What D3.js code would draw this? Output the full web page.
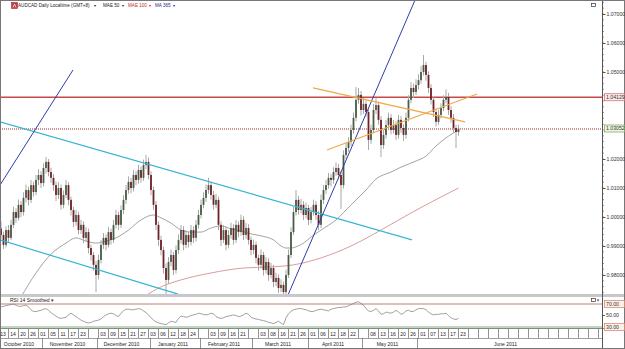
<!DOCTYPE html>
<html><head><meta charset="utf-8">
<script src="https://cdn.jsdelivr.net/npm/d3@7"></script>
<style>html,body{margin:0;padding:0;background:#fff;overflow:hidden}svg{display:block;font-family:Arial,"Liberation Sans",sans-serif}</style>
</head><body><svg id="c" width="625" height="349"></svg>
<script>
// ---------------- DATA ----------------
const open=[0.9960,0.9938,0.9904,0.9955,0.9928,0.9973,1.0017,0.9997,1.0042,1.0017,1.0066,1.0093,1.0059,1.0110,1.0086,1.0128,1.0145,1.0117,1.0169,1.0190,1.0155,1.0135,1.0110,1.0076,1.0100,1.0042,1.0076,1.0110,1.0059,1.0024,0.9983,1.0007,0.9955,0.9973,0.9928,0.9948,0.9893,0.9869,0.9835,0.9800,0.9852,0.9904,0.9928,0.9904,0.9948,0.9921,0.9973,1.0007,0.9973,1.0024,1.0059,1.0093,1.0121,1.0100,1.0145,1.0128,1.0162,1.0135,1.0179,1.0190,1.0145,1.0093,1.0042,0.9973,0.9921,0.9886,0.9824,0.9783,0.9845,0.9869,0.9817,0.9886,0.9921,0.9955,0.9904,0.9938,0.9914,0.9955,0.9928,0.9973,1.0007,1.0042,1.0066,1.0093,1.0110,1.0076,1.0042,1.0059,0.9973,0.9921,0.9955,0.9904,0.9938,0.9962,0.9921,0.9973,0.9948,0.9990,0.9938,0.9962,0.9921,0.9886,0.9904,0.9859,0.9835,0.9869,0.9817,0.9845,0.9800,0.9824,0.9776,0.9790,0.9755,0.9766,0.9741,0.9800,0.9869,0.9948,1.0017,1.0059,1.0024,1.0042,1.0007,1.0031,0.9990,1.0017,1.0042,1.0007,0.9973,1.0059,1.0093,1.0110,1.0135,1.0128,1.0155,1.0169,1.0145,1.0110,1.0214,1.0238,1.0259,1.0300,1.0342,1.0404,1.0421,1.0369,1.0390,1.0362,1.0266,1.0300,1.0369,1.0386,1.0335,1.0248,1.0283,1.0317,1.0342,1.0300,1.0317,1.0283,1.0335,1.0307,1.0283,1.0342,1.0404,1.0445,1.0431,1.0455,1.0472,1.0500,1.0524,1.0490,1.0445,1.0404,1.0362,1.0328,1.0352,1.0376,1.0404,1.0414,1.0369,1.0342,1.0307,1.0293];
const high=[0.9985,0.9950,0.9968,0.9972,0.9990,1.0035,1.0030,1.0060,1.0055,1.0085,1.0112,1.0105,1.0128,1.0122,1.0145,1.0165,1.0158,1.0185,1.0207,1.0200,1.0170,1.0148,1.0122,1.0120,1.0112,1.0092,1.0128,1.0120,1.0070,1.0035,1.0025,1.0018,0.9990,0.9985,0.9965,0.9960,0.9905,0.9880,0.9848,0.9870,0.9920,0.9945,0.9940,0.9965,0.9960,0.9990,1.0025,1.0018,1.0040,1.0075,1.0110,1.0140,1.0135,1.0162,1.0158,1.0180,1.0175,1.0198,1.0214,1.0205,1.0158,1.0105,1.0055,0.9985,0.9935,0.9898,0.9840,0.9862,0.9888,0.9880,0.9902,0.9940,0.9972,0.9968,0.9955,0.9950,0.9972,0.9968,0.9990,1.0025,1.0060,1.0085,1.0112,1.0135,1.0122,1.0090,1.0080,1.0070,0.9985,0.9972,0.9968,0.9955,0.9980,0.9975,0.9990,0.9985,1.0008,1.0002,0.9980,0.9975,0.9932,0.9922,0.9915,0.9870,0.9888,0.9880,0.9862,0.9858,0.9842,0.9835,0.9808,0.9802,0.9785,0.9778,0.9818,0.9888,0.9965,1.0035,1.0093,1.0072,1.0062,1.0055,1.0050,1.0042,1.0035,1.0060,1.0055,1.0020,1.0078,1.0110,1.0128,1.0152,1.0148,1.0172,1.0188,1.0182,1.0158,1.0230,1.0255,1.0275,1.0318,1.0360,1.0448,1.0445,1.0435,1.0410,1.0402,1.0375,1.0318,1.0390,1.0410,1.0398,1.0348,1.0300,1.0335,1.0360,1.0355,1.0335,1.0330,1.0352,1.0348,1.0320,1.0360,1.0420,1.0465,1.0460,1.0475,1.0492,1.0520,1.0559,1.0535,1.0502,1.0458,1.0415,1.0375,1.0370,1.0392,1.0420,1.0440,1.0428,1.0382,1.0355,1.0318,1.0318];
const low=[0.9925,0.9890,0.9895,0.9912,0.9920,0.9962,0.9980,0.9988,1.0000,1.0005,1.0050,1.0040,1.0048,1.0070,1.0075,1.0110,1.0100,1.0105,1.0150,1.0140,1.0118,1.0090,1.0055,1.0062,1.0025,1.0030,1.0065,1.0040,1.0005,0.9965,0.9970,0.9940,0.9942,0.9910,0.9915,0.9875,0.9850,0.9815,0.9741,0.9785,0.9840,0.9890,0.9885,0.9895,0.9905,0.9910,0.9960,0.9955,0.9962,1.0010,1.0045,1.0080,1.0082,1.0088,1.0110,1.0115,1.0118,1.0125,1.0165,1.0130,1.0075,1.0025,0.9955,0.9900,0.9868,0.9805,0.9731,0.9770,0.9830,0.9800,0.9805,0.9872,0.9908,0.9885,0.9892,0.9895,0.9902,0.9910,0.9915,0.9960,0.9995,1.0030,1.0052,1.0080,1.0060,1.0025,1.0030,0.9955,0.9900,0.9910,0.9885,0.9892,0.9925,0.9905,0.9910,0.9930,0.9935,0.9920,0.9925,0.9905,0.9868,0.9872,0.9840,0.9815,0.9822,0.9798,0.9805,0.9780,0.9788,0.9758,0.9762,0.9738,0.9740,0.9724,0.9730,0.9790,0.9858,0.9938,1.0005,1.0008,1.0012,0.9990,0.9995,0.9972,0.9978,1.0005,0.9990,0.9955,0.9962,1.0045,1.0080,1.0098,1.0105,1.0115,1.0142,1.0130,1.0028,1.0098,1.0200,1.0225,1.0245,1.0288,1.0330,1.0390,1.0350,1.0355,1.0345,1.0231,1.0252,1.0288,1.0355,1.0318,1.0207,1.0235,1.0270,1.0305,1.0285,1.0288,1.0265,1.0270,1.0290,1.0262,1.0270,1.0330,1.0392,1.0410,1.0420,1.0440,1.0460,1.0488,1.0470,1.0428,1.0388,1.0345,1.0312,1.0318,1.0340,1.0365,1.0392,1.0352,1.0325,1.0290,1.0238,1.0280];
const close=[0.9938,0.9904,0.9955,0.9928,0.9973,1.0017,0.9997,1.0042,1.0017,1.0066,1.0093,1.0059,1.0110,1.0086,1.0128,1.0145,1.0117,1.0169,1.0190,1.0155,1.0135,1.0110,1.0076,1.0100,1.0042,1.0076,1.0110,1.0059,1.0024,0.9983,1.0007,0.9955,0.9973,0.9928,0.9948,0.9893,0.9869,0.9835,0.9800,0.9852,0.9904,0.9928,0.9904,0.9948,0.9921,0.9973,1.0007,0.9973,1.0024,1.0059,1.0093,1.0121,1.0100,1.0145,1.0128,1.0162,1.0135,1.0179,1.0190,1.0145,1.0093,1.0042,0.9973,0.9921,0.9886,0.9824,0.9783,0.9845,0.9869,0.9817,0.9886,0.9921,0.9955,0.9904,0.9938,0.9914,0.9955,0.9928,0.9973,1.0007,1.0042,1.0066,1.0093,1.0110,1.0076,1.0042,1.0059,0.9973,0.9921,0.9955,0.9904,0.9938,0.9962,0.9921,0.9973,0.9948,0.9990,0.9938,0.9962,0.9921,0.9886,0.9904,0.9859,0.9835,0.9869,0.9817,0.9845,0.9800,0.9824,0.9776,0.9790,0.9755,0.9766,0.9741,0.9800,0.9869,0.9948,1.0017,1.0059,1.0024,1.0042,1.0007,1.0031,0.9990,1.0017,1.0042,1.0007,0.9973,1.0059,1.0093,1.0110,1.0135,1.0128,1.0155,1.0169,1.0145,1.0110,1.0214,1.0238,1.0259,1.0300,1.0342,1.0404,1.0421,1.0369,1.0390,1.0362,1.0266,1.0300,1.0369,1.0386,1.0335,1.0248,1.0283,1.0317,1.0342,1.0300,1.0317,1.0283,1.0335,1.0307,1.0283,1.0342,1.0404,1.0445,1.0431,1.0455,1.0472,1.0500,1.0524,1.0490,1.0445,1.0404,1.0362,1.0328,1.0352,1.0376,1.0404,1.0414,1.0369,1.0342,1.0307,1.0293,1.03052];
const rsi=[65,66,67,68,69,70,68,66,66,67,68,65,60,57,57,58,59,61,62,59,55,52,49,46,45,46,47,51,54,51,48,45,42,40,38,37,38,40,41,42,44,48,51,53,54,53,50,48,54,58,61,61,60,60,61,62,61,58,55,51,46,42,39,37,36,35,34,37,40,39,38,45,49,48,47,48,50,51,52,54,53,52,51,52,54,53,48,46,45,46,48,49,50,51,50,48,49,51,54,52,47,45,44,43,42,41,40,38,37,36,38,40,37,34,46,53,57,60,61,62,62,61,60,58,57,57,59,60,61,60,59,58,61,62,63,64,64,65,65,67,69,71,73,74,71,68,62,58,57,59,62,58,52,53,56,55,54,56,59,56,52,54,58,59,57,57,60,62,62,62,60,56,53,51,52,52,53,53,54,50,46,44,43,45];
// moving averages: bar index -> value
const mae50Idx=[8,14,20,26,30,34,38,42,46,51,56,61,64,68,72,76,80,84,88,92,96,100,104,109,112,114,116,118,121,124,128,134,140,146,150,156,160,166,170,174,178,181,183];
const mae50Val=[0.9724,0.9807,0.9872,0.9910,0.9928,0.9917,0.9910,0.9917,0.9928,0.9955,0.9990,1.0007,0.9997,0.9979,0.9955,0.9948,0.9948,0.9962,0.9969,0.9959,0.9952,0.9942,0.9935,0.9921,0.9900,0.9893,0.9893,0.9897,0.9910,0.9931,0.9955,0.9990,1.0042,1.0093,1.0131,1.0155,1.0172,1.0193,1.0210,1.0245,1.0273,1.0290,1.0300];
const mae100Idx=[57,64,72,84,97,108,117,128,140,152,164,176,183];
const mae100Val=[0.9724,0.9759,0.9783,0.9807,0.9824,0.9828,0.9835,0.9859,0.9900,0.9955,1.0014,1.0069,1.0100];
// drawn trend lines: [barIndex, price] end points
const blueLines=[[[-0.4,1.0110],[28.8,1.0507]],[[114.8,0.9731],[165.6,1.0748]]];
const cyanLines=[[[-0.4,1.0328],[164.4,0.9921]],[[-0.4,0.9921],[70.8,0.9734]]];
const orangeLines=[[[124.8,1.0445],[185.6,1.0328]],[[130.4,1.0231],[190.4,1.0424]]];
const resistance=1.04129, lastPrice=1.03052;
const priceTicks=[1.07,1.06,1.05,1.02,1.01,1.00,0.99,0.98];
const rsiLevels=[70,50,30];
const dayLabels=["13","14","20","26","01","05","11","17","23","","03","09","15","21","27","03","06","12","18","24","","03","09","16","21","","03","08","16","21","26","01","06","12","18","22","","08","13","16","20","26","01","07","13","17","23","","","","","","","","","","","","",""];
const monthNames=["October 2010","November 2010","December 2010","January 2011","February 2011","March 2011","April 2011","May 2011","June 2011"];
const monthStarts=[-1.2,16.4,38.4,59.6,79.6,100.4,122.8,144.4,166.4,238.8];
const headerItems=[{t:"AUDCAD Daily Localtime (GMT+8)",c:"#222"},{t:"MAE 50",c:"#222"},{t:"MAE 100",c:"#c03030"},{t:"MA 365",c:"#2a2a8a"}];

// ---------------- DRAW ----------------
const svg=d3.select("#c");
const W=625,H=349,PR=602;
const x=d3.scaleLinear().domain([-0.4,240.4]).range([0,PR]);
const y=d3.scaleLinear().domain([0.98,1.07]).range([275,14]);
const yr=d3.scaleLinear().domain([30,70]).range([327,304]);

const defs=svg.append("defs");
defs.append("clipPath").attr("id","cm").append("rect").attr("x",0).attr("y",1).attr("width",PR).attr("height",293);
defs.append("clipPath").attr("id","cr").append("rect").attr("x",0).attr("y",297).attr("width",PR).attr("height",31);

svg.append("rect").attr("width",W).attr("height",H).attr("fill","#fff");

const gm=svg.append("g").attr("clip-path","url(#cm)");
gm.append("line").attr("x1",0).attr("x2",PR).attr("y1",y(resistance)).attr("y2",y(resistance)).attr("stroke","#c84848").attr("stroke-width",1.6);
gm.append("line").attr("x1",0).attr("x2",PR).attr("y1",y(lastPrice)+0.5).attr("y2",y(lastPrice)+0.5).attr("stroke","#a02828").attr("stroke-width",1).attr("stroke-dasharray","1,1");

const lineGen=d3.line().curve(d3.curveMonotoneX);
gm.append("path").attr("d",lineGen(mae100Idx.map((d,i)=>[x(d),y(mae100Val[i])]))).attr("fill","none").attr("stroke","#d89090").attr("stroke-width",0.9);
gm.append("path").attr("d",lineGen(mae50Idx.map((d,i)=>[x(d),y(mae50Val[i])]))).attr("fill","none").attr("stroke","#8c8c8c").attr("stroke-width",0.8);

const cg=gm.append("g");
close.forEach((c,i)=>{
  const o=open[i],cx=x(i);
  cg.append("line").attr("x1",cx).attr("x2",cx).attr("y1",y(high[i])).attr("y2",y(low[i])).attr("stroke","#a8a8a8").attr("stroke-width",1);
  const top=y(Math.max(o,c)),bot=y(Math.min(o,c));
  cg.append("rect").attr("x",cx-0.9).attr("width",1.8).attr("y",top).attr("height",Math.max(1,bot-top))
    .attr("fill",c>=o?"#4a5c48":"#6e2226");
});

function tl(arr,col,w){arr.forEach(s=>gm.append("line").attr("x1",x(s[0][0])).attr("y1",y(s[0][1])).attr("x2",x(s[1][0])).attr("y2",y(s[1][1])).attr("stroke",col).attr("stroke-width",w));}
tl(cyanLines,"#38b4d4",1.2);
tl(blueLines,"#2e3ea8",1);
tl(orangeLines,"#f0a848",1.2);

const gr=svg.append("g");
gr.append("line").attr("x1",0).attr("x2",PR).attr("y1",yr(70)).attr("y2",yr(70)).attr("stroke","#b06050").attr("stroke-width",0.8);
gr.append("line").attr("x1",0).attr("x2",PR).attr("y1",yr(30)).attr("y2",yr(30)).attr("stroke","#5a9a5a").attr("stroke-width",0.8);
gr.append("path").attr("clip-path","url(#cr)").attr("d",d3.line()(rsi.map((v,i)=>[x(i),yr(v)]))).attr("fill","none").attr("stroke","#7a7a7a").attr("stroke-width",0.7);
gr.append("text").attr("x",10).attr("y",301.5).attr("font-size",5).attr("fill","#222").text("RSI 14 Smoothed  \u25BE");

svg.append("rect").attr("x",0).attr("y",294).attr("width",W).attr("height",3).attr("fill","#c8c8c8");
svg.append("line").attr("x1",0).attr("x2",W).attr("y1",328.5).attr("y2",328.5).attr("stroke","#888").attr("stroke-width",1);
svg.append("line").attr("x1",0).attr("x2",PR).attr("y1",338.5).attr("y2",338.5).attr("stroke","#888").attr("stroke-width",0.8);
svg.append("line").attr("x1",PR+0.5).attr("x2",PR+0.5).attr("y1",0).attr("y2",H).attr("stroke","#555").attr("stroke-width",1);
svg.append("rect").attr("x",0.5).attr("y",0.5).attr("width",W-1).attr("height",H-1).attr("fill","none").attr("stroke","#777");

const ax=d3.axisRight(y).tickValues(priceTicks).tickSize(3).tickFormat(d3.format(".5f"));
const ag=svg.append("g").attr("transform",`translate(${PR+0.5},0)`).call(ax);
ag.select(".domain").remove();
ag.selectAll("text").attr("font-size",5.2).attr("fill","#333").attr("x",4);
ag.selectAll("line").attr("stroke","#555");
const minor=d3.range(0.974,1.0741,0.002);
svg.append("g").selectAll("line").data(minor).join("line").attr("x1",PR).attr("x2",PR+2).attr("y1",d=>y(d)).attr("y2",d=>y(d)).attr("stroke","#555").attr("stroke-width",0.6);
function boxLabel(val,yy,txt,bc,fc){
  svg.append("rect").attr("x",PR+2.5).attr("y",yy-3.5).attr("width",20).attr("height",7).attr("fill",fc).attr("stroke",bc).attr("stroke-width",0.7);
  svg.append("text").attr("x",PR+4).attr("y",yy+1.8).attr("font-size",5.2).attr("fill","#333").text(txt);
}
boxLabel(resistance,y(resistance),d3.format(".5f")(resistance),"#d06060","#fdeaea");
boxLabel(lastPrice,y(lastPrice),d3.format(".5f")(lastPrice),"#70a050","#eef7e6");
rsiLevels.forEach(v=>{
  if(v===50){
    svg.append("line").attr("x1",PR).attr("x2",PR+3).attr("y1",yr(v)).attr("y2",yr(v)).attr("stroke","#555");
    svg.append("text").attr("x",PR+4).attr("y",yr(v)+1.8).attr("font-size",5.2).attr("fill","#333").text(d3.format(".2f")(v));
  } else boxLabel(v,yr(v),d3.format(".2f")(v),"#d08060","#fdf0ea");
});

const cells=dayLabels.map((t,k)=>({t,s:4*k-1.2,e:4*k+2.8}));
const dg=svg.append("g");
dg.selectAll("line").data(cells).join("line").attr("x1",d=>x(d.e)+0.5).attr("x2",d=>x(d.e)+0.5).attr("y1",329).attr("y2",338).attr("stroke","#666").attr("stroke-width",0.7);
dg.selectAll("text").data(cells).join("text").attr("x",d=>(x(d.s)+x(d.e))/2).attr("y",336).attr("text-anchor","middle").attr("font-size",5).attr("fill","#222").text(d=>d.t);
const months=monthNames.map((t,k)=>({t,s:monthStarts[k],e:monthStarts[k+1]}));
const mg=svg.append("g");
mg.selectAll("line").data(months.slice(1)).join("line").attr("x1",d=>x(d.s)+0.5).attr("x2",d=>x(d.s)+0.5).attr("y1",338).attr("y2",349).attr("stroke","#666").attr("stroke-width",0.7);
mg.selectAll("text").data(months).join("text").attr("x",d=>(Math.max(0,x(d.s))+x(d.e))/2-2).attr("y",346).attr("text-anchor","middle").attr("font-size",5).attr("fill","#222").text(d=>d.t);

// header
const hx=[18,103,128,155];
svg.append("rect").attr("x",11.5).attr("y",2.5).attr("width",6).attr("height",6).attr("fill","#c83a3a").attr("stroke","#802020").attr("stroke-width",0.5);
svg.append("path").attr("d","M13,7.5 L14.5,4 L16,7.5").attr("fill","none").attr("stroke","#fff").attr("stroke-width",0.7);
headerItems.forEach((h,k)=>{
  const t=svg.append("text").attr("x",hx[k]).attr("y",7.3).attr("font-size",4.6).attr("fill",h.c).text(h.t);
  const w=t.node().getComputedTextLength();
  svg.append("text").attr("x",hx[k]+w+(k===0?4:2.5)).attr("y",7.3).attr("font-size",4.2).attr("fill",h.c).text("\u25BE");
});
svg.append("rect").attr("x",591.5).attr("y",3.5).attr("width",4).attr("height",3).attr("fill","none").attr("stroke","#333").attr("stroke-width",0.7);
svg.append("rect").attr("x",591.5).attr("y",298.5).attr("width",4).attr("height",3).attr("fill","none").attr("stroke","#333").attr("stroke-width",0.7);
svg.append("text").attr("x",596.5).attr("y",302).attr("font-size",5).attr("fill","#222").text("\u00D7");
</script></body></html>
